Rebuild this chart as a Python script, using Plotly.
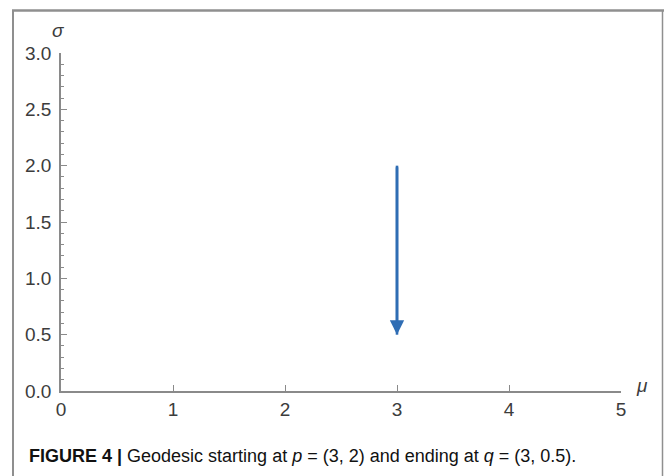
import plotly.graph_objects as go

# Data
start_point = [3, 2]      # p = (mu, sigma)
end_point = [3, 0.5]      # q = (mu, sigma)
x_ticks = [0, 1, 2, 3, 4, 5]
x_tick_labels = ["0", "1", "2", "3", "4", "5"]
y_ticks = [0.0, 0.5, 1.0, 1.5, 2.0, 2.5, 3.0]
y_tick_labels = ["0.0", "0.5", "1.0", "1.5", "2.0", "2.5", "3.0"]
caption = ("<b>FIGURE 4 |</b> Geodesic starting at <i>p</i> = (3, 2) "
           "and ending at <i>q</i> = (3, 0.5).")

W, H = 665, 476
L, R, T, B = 61, 44, 53, 85
pw, ph = W - L - R, H - T - B

def px(x):
    return (x - L) / pw

def py(y):
    return (H - B - y) / ph

axis_col = "#8a8a8a"
text_col = "#3c3c3c"
blue = "#2f6db4"

fig = go.Figure()
fig.add_trace(go.Scatter(x=[start_point[0], end_point[0]],
                         y=[start_point[1], end_point[1]],
                         mode="lines", line=dict(color=blue, width=2.6),
                         hoverinfo="skip", showlegend=False))

fig.add_annotation(x=end_point[0], y=end_point[1], ax=start_point[0], ay=start_point[1],
                   xref="x", yref="y", axref="x", ayref="y", text="",
                   showarrow=True, arrowhead=2, arrowsize=1.1, arrowwidth=2.6,
                   arrowcolor=blue)

fig.update_layout(
    width=W, height=H,
    margin=dict(l=L, r=R, t=T, b=B),
    paper_bgcolor="white", plot_bgcolor="white",
    font=dict(family="Liberation Sans, Arial, sans-serif", color=text_col, size=19),
    showlegend=False,
    xaxis=dict(range=[0, 5], tickvals=x_ticks, ticktext=x_tick_labels,
               showgrid=False, zeroline=False, showline=True,
               linecolor=axis_col, linewidth=1.5,
               ticks="inside", ticklen=6, tickwidth=1, tickcolor=axis_col,
               tickfont=dict(size=19, color=text_col), fixedrange=True),
    yaxis=dict(range=[0, 3], tickvals=y_ticks, ticktext=y_tick_labels,
               showgrid=False, zeroline=False, showline=True,
               linecolor=axis_col, linewidth=1.5,
               ticks="inside", ticklen=6, tickwidth=1, tickcolor=axis_col,
               ticklabelstandoff=4,
               minor=dict(dtick=0.1, ticks="inside", ticklen=3, tickcolor=axis_col,
                          showgrid=False),
               tickfont=dict(size=19, color=text_col), fixedrange=True),
)

# axis labels
fig.add_annotation(xref="paper", yref="paper", x=px(58), y=py(31), text="<i>σ</i>",
                   showarrow=False, font=dict(size=19, color=text_col),
                   xanchor="center", yanchor="middle")
fig.add_annotation(xref="paper", yref="paper", x=px(642), y=py(385), text="<i>μ</i>",
                   showarrow=False, font=dict(size=19, color=text_col),
                   xanchor="center", yanchor="middle")

# caption
fig.add_annotation(xref="paper", yref="paper", x=px(27), y=py(456), text=caption,
                   showarrow=False, font=dict(size=18, color="#111111"),
                   xanchor="left", yanchor="middle", align="left")

# frame
frame_col = "#8f8f8f"
fig.add_shape(type="line", xref="paper", yref="paper", x0=px(12), x1=px(664),
              y0=py(10.5), y1=py(10.5), line=dict(color=frame_col, width=2.5))
fig.add_shape(type="line", xref="paper", yref="paper", x0=px(13), x1=px(13),
              y0=py(10), y1=py(476), line=dict(color=frame_col, width=2))
fig.add_shape(type="line", xref="paper", yref="paper", x0=px(662.5), x1=px(662.5),
              y0=py(10), y1=py(476), line=dict(color=frame_col, width=1.5))

fig.write_html("out.html")
